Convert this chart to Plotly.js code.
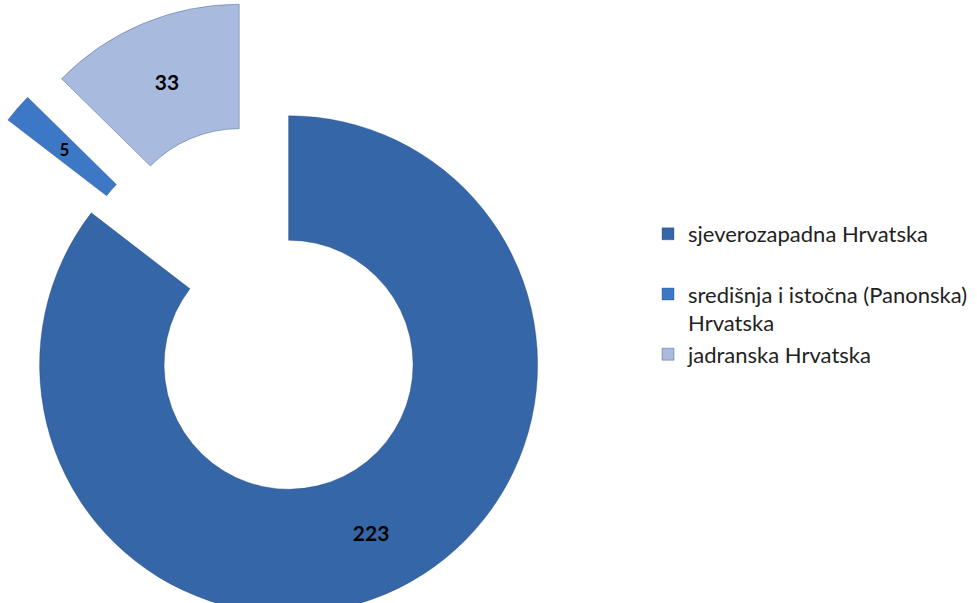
<!DOCTYPE html>
<html>
<head>
<meta charset="utf-8">
<script src="https://cdn.plot.ly/plotly-3.0.1.min.js"></script>
<style>
  html, body { margin: 0; padding: 0; width: 977px; height: 603px; overflow: hidden; background: #ffffff; }
  #wrap { position: relative; width: 977px; height: 603px; overflow: hidden; }
  #chart { position: absolute; left: -100px; top: -60px; width: 1100px; height: 780px; }
</style>
</head>
<body>
<div id="wrap"><div id="chart"></div></div>
<script>
// ---- data ----
var categories = ["sjeverozapadna Hrvatska", "središnja i istočna (Panonska) Hrvatska", "jadranska Hrvatska"];
var values = [223, 5, 33];
var legendLabels = ["sjeverozapadna Hrvatska<br>\u00a0", "središnja i istočna (Panonska)<br>Hrvatska", "jadranska Hrvatska"];
var sliceColors = ["#3466a8", "#3d78c6", "#a8bbde"];
var pulls = [0.16, 0.35, 0.33];

// ---- layout geometry (pixels inside the chart div) ----
var W = 1100, H = 780;
var cx = 371, cy = 389;       // pie centre
var radius = 249;             // outer radius
var maxPull = Math.max.apply(null, pulls);
var half = radius * (1 + maxPull);

var valueFont = { family: "Lato, 'Open Sans', sans-serif", size: 21, color: "#000000", weight: "bold" };

var mainPie = {
  type: "pie",
  labels: legendLabels,
  values: values,
  customdata: categories,
  sort: false,
  direction: "clockwise",
  rotation: 0,
  hole: 0.5,
  pull: pulls,
  marker: { colors: sliceColors, line: { color: "rgba(30,60,110,0.35)", width: 1 } },
  texttemplate: ["%{value}", "", "%{value}"],
  textposition: "inside",
  insidetextorientation: "horizontal",
  textfont: valueFont,
  hovertemplate: "%{customdata}: %{value}<extra></extra>",
  domain: {
    x: [(cx - half) / W, (cx + half) / W],
    y: [1 - (cy + half) / H, 1 - (cy - half) / H]
  }
};

// transparent copy of the same data, only used to place the label of the thin slice
// in the middle of the ring (same slice centre, smaller radius)
var labelRadius = 198;
var thinPull = pulls[1] * radius / labelRadius;
var labelPulls = [0, thinPull, 0];
var halfL = labelRadius * (1 + thinPull);
var labelPie = {
  type: "pie",
  labels: legendLabels,
  values: values,
  sort: false,
  direction: "clockwise",
  rotation: 0,
  hole: 0.5,
  pull: labelPulls,
  showlegend: false,
  hoverinfo: "skip",
  marker: { colors: ["rgba(0,0,0,0)", "rgba(0,0,0,0)", "rgba(0,0,0,0)"], line: { width: 0 } },
  texttemplate: ["", "%{value}", ""],
  textposition: "inside",
  insidetextorientation: "horizontal",
  textfont: valueFont,
  domain: {
    x: [(cx - halfL) / W, (cx + halfL) / W],
    y: [1 - (cy + halfL) / H, 1 - (cy - halfL) / H]
  }
};

var layout = {
  width: W,
  height: H,
  margin: { l: 0, r: 0, t: 0, b: 0 },
  paper_bgcolor: "#ffffff",
  plot_bgcolor: "#ffffff",
  showlegend: true,
  legend: {
    x: 748 / W,
    y: 1 - 273 / H,
    xanchor: "left",
    yanchor: "top",
    valign: "top",
    font: { family: "Lato, 'Open Sans', sans-serif", size: 22, color: "#222222" },
    bgcolor: "rgba(0,0,0,0)"
  }
};

Plotly.newPlot("chart", [mainPie, labelPie], layout, { displayModeBar: false, staticPlot: true });
</script>
</body>
</html>
